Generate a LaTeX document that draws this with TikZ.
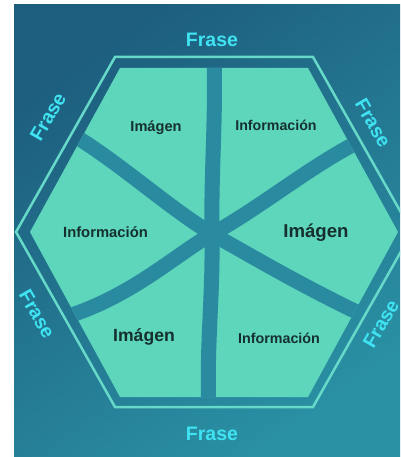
\documentclass[tikz,border=0pt]{standalone}
\usepackage{fontspec}
\setmainfont{Liberation Sans}
\definecolor{bgA}{HTML}{1D5E7E}
\definecolor{bgB}{HTML}{2A90A4}
\definecolor{mint}{HTML}{5DD6BC}
\definecolor{rim}{HTML}{66D9C8}
\definecolor{divc}{HTML}{2A8A9F}
\definecolor{frase}{HTML}{3FE3F2}
\definecolor{ink}{HTML}{15302E}
\tikzset{
  frase/.style={text=frase, font=\bfseries\fontsize{19.5}{19.5}\selectfont, inner sep=0pt},
  lab/.style={text=ink, font=\bfseries\fontsize{#1}{#1}\selectfont, inner sep=0pt},
  divider/.style={draw=divc, line width=15pt},
}
\begin{document}
\begin{tikzpicture}[x=1pt,y=-1pt]
\useasboundingbox (0,0) rectangle (400,457);
\fill[white] (0,0) rectangle (400,457);
\shade[shading=axis, top color=bgA, bottom color=bgB, shading angle=35] (14,5) rectangle (400,456);
\begin{scope}
\clip (14,5) rectangle (400,456);
% outer rim
\draw[rim, line width=2.5pt, line join=miter] (16,232) -- (115,57) -- (313,57) -- (412,232) -- (313,407) -- (115,407) -- cycle;
% inner fill
\fill[mint] (30,232) -- (120,68) -- (308,68) -- (398,232) -- (308,397) -- (120,397) -- cycle;
\begin{scope}
\clip (30,232) -- (120,68) -- (308,68) -- (398,232) -- (308,397) -- (120,397) -- cycle;
\coordinate (C) at (212,234);
\coordinate (eT) at (214,55);
\coordinate (eB) at (209,410);
\coordinate (eUL) at (70,133);
\coordinate (eUR) at (362,140);
\coordinate (eLL) at (62,318);
\coordinate (eLR) at (367,317);
\draw[divider] (C) .. controls (211,170) and (216,120) .. (eT);
\draw[divider] (C) .. controls (213,300) and (206,350) .. (eB);
\draw[divider] (C) .. controls (165,205) and (120,163) .. (eUL);
\draw[divider] (C) .. controls (260,208) and (310,166) .. (eUR);
\draw[divider] (C) .. controls (175,255) and (130,298) .. (eLL);
\draw[divider] (C) .. controls (255,258) and (300,285) .. (eLR);
\end{scope}
\end{scope}
% labels
\node[lab=14.6] (l1) at (156,128) {Imágen};
\node[lab=14.2] (l2) at (276,125) {Información};
\node[lab=14.8] (l3) at (105.5,232) {Información};
\node[lab=18.6] (l4) at (316,233) {Imágen};
\node[lab=17.6] (l5) at (144,337) {Imágen};
\node[lab=14.3] (l6) at (279,338) {Información};
% Frase labels
\node[frase] (f1) at (212,40) {Frase};
\node[frase] (f2) at (212,434) {Frase};
\node[frase, rotate=60] (f3) at (48,117) {Frase};
\node[frase, rotate=-60] (f4) at (373,123) {Frase};
\node[frase, rotate=-60] (f5) at (37,314) {Frase};
\node[frase, rotate=60] (f6) at (381,324) {Frase};
\end{tikzpicture}
\end{document}
